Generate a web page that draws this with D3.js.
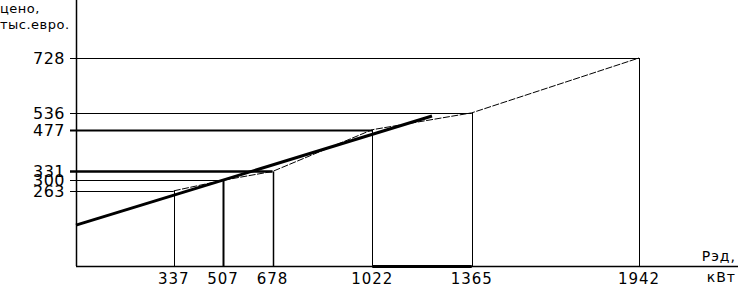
<!DOCTYPE html>
<html>
<head>
<meta charset="utf-8">
<script src="https://cdn.jsdelivr.net/npm/d3@7"></script>
<style>
  body { margin: 0; background: #fff; }
  svg text { font-family: "DejaVu Sans", sans-serif; fill: #000; }
</style>
</head>
<body>
<svg id="chart" width="738" height="287"></svg>
<script>
// power (kW) and price (thousand euro)
const power = [337, 507, 678, 1022, 1365, 1942];
const price = [263, 300, 331, 477, 536, 728];
// straight trend line: start and end
const trendPower = [0, 1228];
const trendPrice = [143, 525];

const yLabel = ['цено,', 'тыс.евро.'];
const xLabel = ['Рэд,', 'кВт'];

// stroke widths, guide lines in the same order as the data
const hWidth = [1, 1, 2.5, 2, 1, 1];
const vWidth = [1, 2, 1.5, 1, 1, 1];

const svg = d3.select('#chart');
const x = d3.scaleLinear().domain([0, 1942]).range([76, 639]);
const y = d3.scaleLinear().domain([0, 728]).range([266, 58]);

const pts = power.map((p, i) => [p, price[i]]);

// horizontal guides from the y axis
svg.selectAll('line.h').data(pts).enter().append('line')
  .attr('class', 'h')
  .attr('x1', 70).attr('x2', d => x(d[0]))
  .attr('y1', d => Math.round(y(d[1])) + 0.5).attr('y2', d => Math.round(y(d[1])) + 0.5)
  .attr('stroke', '#000').attr('stroke-width', (d, i) => hWidth[i]);

// vertical guides down to the x axis
svg.selectAll('line.v').data(pts).enter().append('line')
  .attr('class', 'v')
  .attr('x1', d => Math.round(x(d[0])) + 0.5).attr('x2', d => Math.round(x(d[0])) + 0.5)
  .attr('y1', d => y(d[1])).attr('y2', y(0))
  .attr('stroke', '#000').attr('stroke-width', (d, i) => vWidth[i]);

// thin broken line through the points
svg.append('path')
  .attr('d', d3.line().x(d => x(d[0])).y(d => y(d[1]))(pts))
  .attr('fill', 'none').attr('stroke', '#000').attr('stroke-width', 1)
  .attr('stroke-dasharray', '7,1.5');

// thick trend line
svg.append('path')
  .attr('d', d3.line().x(d => x(d[0])).y(d => y(d[1]))(trendPower.map((p, i) => [p, trendPrice[i]])))
  .attr('fill', 'none').attr('stroke', '#000').attr('stroke-width', 3);

// axes
svg.append('line').attr('x1', 76.5).attr('x2', 76.5).attr('y1', 0).attr('y2', y(0))
  .attr('stroke', '#000').attr('stroke-width', 1.5);
svg.append('line').attr('x1', 76).attr('x2', 738).attr('y1', y(0) + 0.5).attr('y2', y(0) + 0.5)
  .attr('stroke', '#000').attr('stroke-width', 1.5);
// heavier bit of the x axis between 1022 and 1365
svg.append('line').attr('x1', x(power[3])).attr('x2', x(power[4]))
  .attr('y1', y(0) + 0.5).attr('y2', y(0) + 0.5)
  .attr('stroke', '#000').attr('stroke-width', 3);

// tick labels
svg.selectAll('text.yt').data(price).enter().append('text')
  .attr('class', 'yt')
  .attr('x', 65).attr('y', d => y(d) + 6)
  .attr('text-anchor', 'end')
  .attr('font-size', 16).attr('letter-spacing', 0.5)
  .text(d => d);

svg.selectAll('text.xt').data(power).enter().append('text')
  .attr('class', 'xt')
  .attr('x', d => x(d)).attr('y', 284)
  .attr('text-anchor', 'middle')
  .attr('font-size', 15).attr('letter-spacing', 1)
  .text(d => d);

// axis titles
svg.selectAll('text.yl').data(yLabel).enter().append('text')
  .attr('class', 'yl')
  .attr('x', 0).attr('y', (d, i) => 13 + i * 16)
  .attr('font-size', 13).attr('letter-spacing', 0.5)
  .text(d => d);

svg.selectAll('text.xl').data(xLabel).enter().append('text')
  .attr('class', 'xl')
  .attr('x', 736).attr('y', (d, i) => 261 + i * 21)
  .attr('text-anchor', 'end')
  .attr('font-size', 14).attr('letter-spacing', 1)
  .text(d => d);
</script>
</body>
</html>
